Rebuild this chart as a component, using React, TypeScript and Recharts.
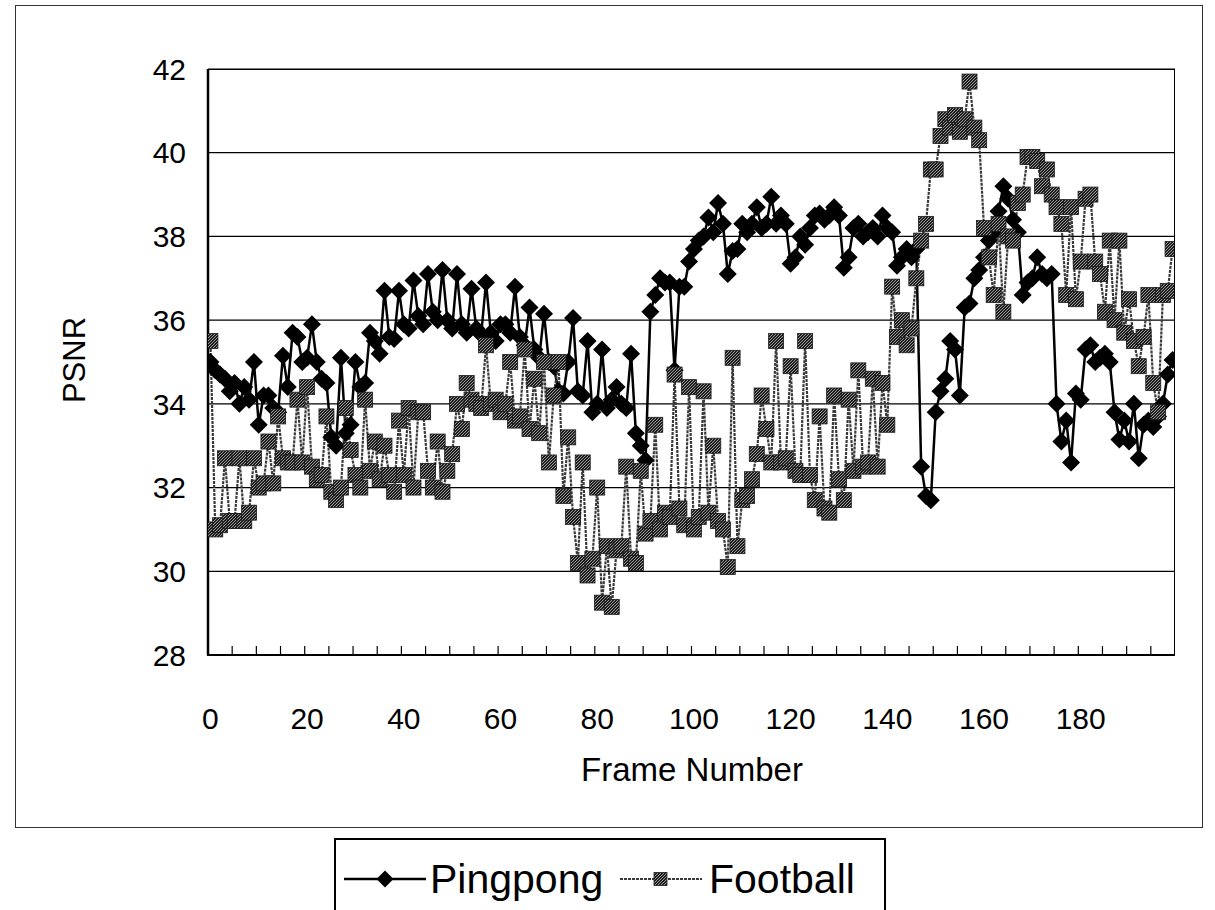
import { LineChart, Line, XAxis, YAxis, CartesianGrid } from 'recharts'

const pingpong = [
  35.0, 34.8, 34.7, 34.6, 34.3, 34.5, 34.0, 34.4, 34.1, 35.0,
  33.5, 34.2, 34.2, 33.9, 33.8, 35.15, 34.4, 35.7, 35.6, 35.0,
  35.1, 35.9, 35.0, 34.6, 34.5, 33.2, 33.0, 35.1, 33.3, 33.5,
  35.0, 34.4, 34.5, 35.7, 35.5, 35.2, 36.7, 35.6, 35.55, 36.7,
  35.9, 35.8, 36.95, 36.1, 35.9, 37.1, 36.2, 36.0, 37.2, 36.0,
  35.8, 37.1, 35.9, 35.7, 36.75, 35.8, 35.65, 36.9, 35.7, 35.5,
  35.9, 35.9, 35.7, 36.8, 35.6, 35.4, 36.3, 35.3, 35.1, 36.15,
  35.0, 34.9, 34.3, 34.25, 35.0, 36.05, 34.3, 34.2, 35.5, 33.8,
  34.0, 35.3, 33.9, 34.1, 34.4, 34.0, 33.9, 35.2, 33.3, 33.0,
  32.65, 36.2, 36.6, 37.0, 36.9, 36.9, 34.8, 36.8, 36.8, 37.4,
  37.7, 37.9, 38.0, 38.45, 38.1, 38.8, 38.3, 37.1, 37.65, 37.7,
  38.3, 38.1, 38.3, 38.7, 38.2, 38.3, 38.95, 38.3, 38.5, 38.3,
  37.35, 37.5, 38.0, 37.8, 38.2, 38.5, 38.55, 38.4, 38.5, 38.7,
  38.5, 37.25, 37.5, 38.2, 38.3, 38.0, 38.1, 38.2, 38.0, 38.5,
  38.2, 38.1, 37.3, 37.5, 37.7, 37.5, 37.7, 32.5, 31.8, 31.7,
  33.8, 34.3, 34.6, 35.5, 35.3, 34.2, 36.3, 36.4, 37.0, 37.2,
  37.5, 37.9, 38.1, 38.6, 39.2, 38.9, 38.4, 38.1, 36.6, 36.9,
  37.0, 37.5, 37.1, 37.0, 37.1, 34.0, 33.1, 33.6, 32.6, 34.25,
  34.1, 35.3, 35.4, 35.0, 35.1, 35.2, 35.0, 33.8, 33.15, 33.6,
  33.1, 34.0, 32.7, 33.5, 33.6, 33.45, 33.7, 34.0, 34.7, 35.05,
]

const football = [
  35.5, 31.0, 31.1, 32.7, 31.2, 31.2, 32.7, 31.2, 31.4, 32.7,
  32.0, 32.1, 33.1, 32.1, 33.7, 32.7, 32.6, 32.6, 34.1, 32.6,
  34.4, 32.5, 32.2, 32.3, 33.7, 31.9, 31.7, 32.0, 33.9, 32.9,
  32.3, 32.0, 34.1, 32.4, 33.1, 32.2, 33.0, 32.3, 31.9, 33.6,
  32.3, 33.9, 32.0, 33.8, 33.8, 32.4, 32.0, 33.1, 31.9, 32.4,
  32.8, 34.0, 33.4, 34.5, 34.1, 34.0, 33.9, 35.4, 34.0, 34.1,
  33.8, 34.0, 35.0, 33.6, 33.7, 35.3, 33.4, 34.6, 33.3, 35.0,
  32.6, 34.2, 35.0, 31.8, 33.2, 31.3, 30.2, 32.6, 29.9, 30.3,
  32.0, 29.25, 30.6, 29.15, 30.5, 30.6, 32.5, 30.3, 30.2, 32.4,
  30.9, 31.2, 33.5, 31.0, 31.4, 31.3, 34.7, 31.5, 31.1, 34.4,
  31.0, 31.3, 34.3, 31.4, 33.0, 31.2, 31.0, 30.1, 35.1, 30.6,
  31.7, 31.8, 32.2, 32.8, 34.2, 33.4, 32.6, 35.5, 32.6, 32.7,
  34.9, 32.4, 32.3, 35.5, 32.3, 31.7, 33.7, 31.5, 31.4, 34.2,
  32.2, 31.7, 34.1, 32.4, 34.8, 32.5, 32.6, 34.6, 32.5, 34.5,
  33.5, 36.8, 35.6, 36.0, 35.4, 35.8, 37.0, 37.9, 38.3, 39.6,
  39.6, 40.4, 40.8, 40.6, 40.9, 40.5, 40.8, 41.7, 40.6, 40.3,
  38.2, 37.5, 36.6, 38.3, 36.2, 38.0, 37.9, 38.8, 39.0, 39.9,
  39.9, 39.8, 39.2, 39.6, 39.0, 38.7, 38.3, 36.6, 38.7, 36.5,
  37.4, 38.9, 39.0, 37.4, 37.1, 36.2, 37.9, 36.0, 37.9, 35.7,
  36.5, 35.5, 34.9, 35.6, 36.6, 34.5, 33.8, 36.6, 36.7, 37.7,
]

const yTicks = [28, 30, 32, 34, 36, 38, 40, 42]
const xLabels = [0, 20, 40, 60, 80, 100, 120, 140, 160, 180]
// minor tick marks sit on category boundaries every 5 frames
const xMarks = Array.from({ length: 39 }, (_, i) => 4.5 + i * 5)

const data = pingpong.map((p, i) => ({ frame: i, pingpong: p, football: football[i] }))

const FONT = 'Arial, "Liberation Sans", sans-serif'

function Diamond(props: any) {
  const { cx, cy } = props
  if (cx == null || cy == null) return null
  const r = 9
  return <polygon points={`${cx},${cy - r} ${cx + r},${cy} ${cx},${cy + r} ${cx - r},${cy}`} fill="#000" />
}

function Square(props: any) {
  const { cx, cy } = props
  if (cx == null || cy == null) return null
  const r = 7.5
  return <rect x={cx - r} y={cy - r} width={r * 2} height={r * 2} fill="url(#hatch)" stroke="#1a1a1a" strokeWidth={0.8} />
}

function XTick(props: any) {
  const { x, y, payload } = props
  const v = payload.value
  if (Number.isInteger(v)) {
    return (
      <text x={x} y={y + 74} textAnchor="middle" fontSize={30} fontFamily={FONT} fill="#000">
        {v}
      </text>
    )
  }
  return <line x1={x} x2={x} y1={y} y2={y - 9} stroke="#000" strokeWidth={1.2} />
}

export default function App() {
  return (
    <div style={{ position: 'absolute', left: 0, top: 0, width: 1215, height: 910, background: '#fff', overflow: 'hidden' }}>
      <div style={{ position: 'absolute', left: 15, top: 5, width: 1188, height: 823, border: '1.5px solid #333', boxSizing: 'border-box' }} />
      <div style={{ position: 'absolute', left: 0, top: 0 }}>
        <LineChart width={1215} height={830} data={data} margin={{ top: 69, right: 40, left: 0, bottom: 0 }}>
          <defs>
            <pattern id="hatch" width="3" height="3" patternUnits="userSpaceOnUse">
              <rect width="3" height="3" fill="#1e1e1e" />
              <path d="M0,3 L3,0" stroke="#a8a8a8" strokeWidth="0.9" />
            </pattern>
          </defs>
          <CartesianGrid vertical={false} stroke="#000" strokeWidth={1.2} />
          <XAxis
            dataKey="frame"
            type="number"
            domain={[-0.5, 199.5]}
            ticks={[...xLabels, ...xMarks].sort((a, b) => a - b)}
            interval={0}
            tick={<XTick />}
            tickLine={false}
            tickSize={0}
            tickMargin={0}
            axisLine={{ stroke: '#000', strokeWidth: 2 }}
            height={175}
            allowDataOverflow
          />
          <YAxis
            domain={[28, 42]}
            ticks={yTicks}
            interval={0}
            width={208}
            tickLine={false}
            tickSize={0}
            tickMargin={22}
            axisLine={{ stroke: '#000', strokeWidth: 2.5 }}
            tick={{ fontSize: 30, fontFamily: FONT, fill: '#000' }}
          />
          <Line
            dataKey="pingpong"
            stroke="#000"
            strokeWidth={2.5}
            dot={<Diamond />}
            activeDot={false}
            isAnimationActive={false}
          />
          <Line
            dataKey="football"
            stroke="#3a3a3a"
            strokeWidth={2.2}
            strokeDasharray="3 1"
            dot={<Square />}
            activeDot={false}
            isAnimationActive={false}
          />
        </LineChart>
      </div>
      <div style={{ position: 'absolute', left: 207, top: 69, width: 968, height: 587, border: '1.5px solid #000', boxSizing: 'border-box', pointerEvents: 'none' }} />
      <div
        style={{
          position: 'absolute', left: 75, top: 360, transform: 'translate(-50%, -50%) rotate(-90deg)',
          fontFamily: FONT, fontSize: 31, whiteSpace: 'nowrap',
        }}
      >
        PSNR
      </div>
      <div
        style={{
          position: 'absolute', left: 692, top: 770, transform: 'translate(-50%, -50%)',
          fontFamily: FONT, fontSize: 33, whiteSpace: 'nowrap',
        }}
      >
        Frame Number
      </div>
      <div
        style={{
          position: 'absolute', left: 334, top: 838, width: 552, height: 90, border: '2.5px solid #000',
          boxSizing: 'border-box', fontFamily: FONT, fontSize: 41, lineHeight: '44px',
        }}
      >
        <svg width={82} height={44} style={{ position: 'absolute', left: 8, top: 17 }}>
          <line x1={0} x2={82} y1={22} y2={22} stroke="#000" strokeWidth={2.5} />
          <polygon points="41,13.5 49.5,22 41,30.5 32.5,22" fill="#000" />
        </svg>
        <span style={{ position: 'absolute', left: 94, top: 17 }}>Pingpong</span>
        <svg width={82} height={44} style={{ position: 'absolute', left: 284, top: 17 }}>
          <line x1={0} x2={82} y1={22} y2={22} stroke="#3a3a3a" strokeWidth={2} strokeDasharray="3 1" />
          <rect x={34} y={15.5} width={13} height={13} fill="url(#hatch)" stroke="#1a1a1a" strokeWidth={0.8} />
        </svg>
        <span style={{ position: 'absolute', left: 373, top: 17 }}>Football</span>
      </div>
    </div>
  )
}
